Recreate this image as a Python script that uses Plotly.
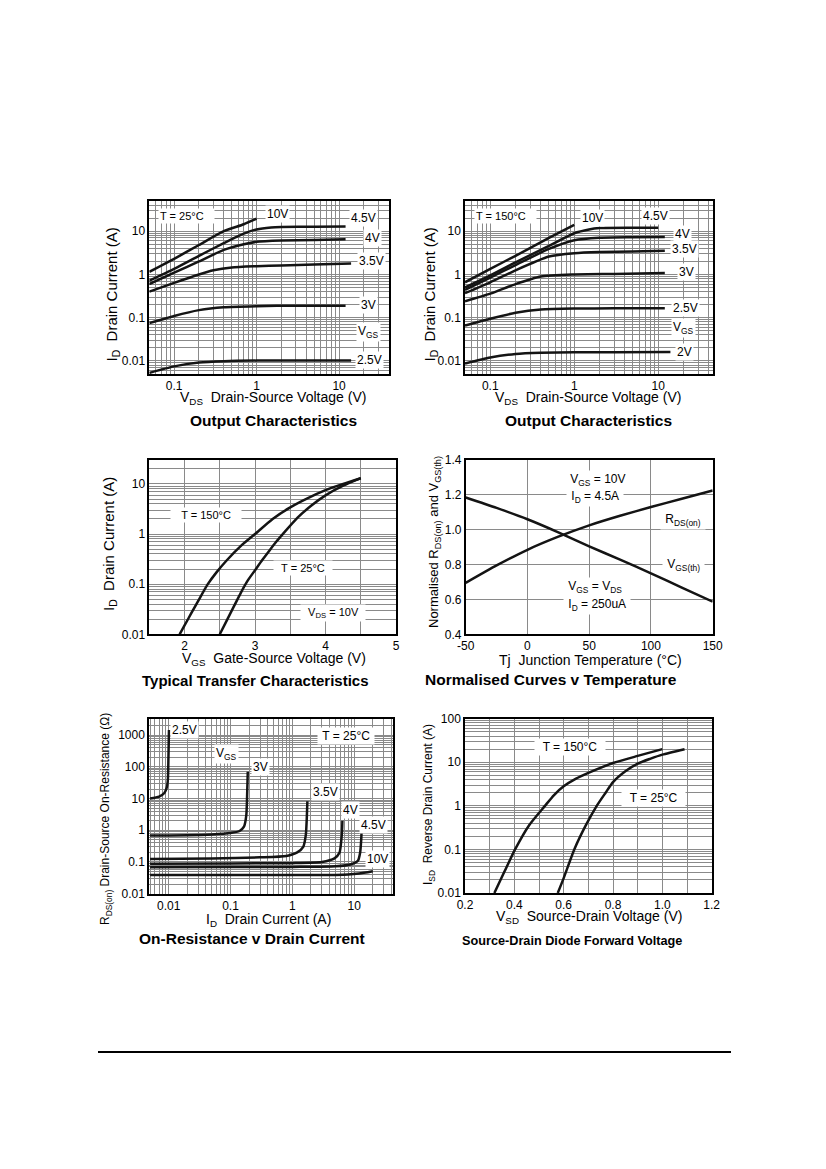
import numpy as np
import plotly.graph_objects as go

W, H = 826, 1169
OX, OY = 8, 8          # the page body margin that the browser adds round the figure
FONT = "Liberation Sans, Arial, sans-serif"
GRID = "#8a8a8a"
INK = "#141414"

# ---------------- data ----------------
# Output characteristics, T = 25 C  (VDS [V] -> ID [A])
oc25_10v_vds = [0.05, 0.1, 0.2, 0.4, 0.7, 1.0]
oc25_10v_id = [1.15, 2.3, 4.8, 10, 14.5, 19.5]
oc25_45v_vds = [0.05, 0.1, 0.2, 0.4, 0.7, 1.0, 1.5, 2, 5, 12]
oc25_45v_id = [0.72, 1.35, 2.7, 5.3, 8.8, 11, 12.2, 12.5, 12.7, 12.8]
oc25_4v_vds = [0.05, 0.1, 0.2, 0.4, 0.7, 1.0, 2, 5, 12]
oc25_4v_id = [0.6, 1.1, 2.0, 3.7, 5.0, 5.7, 6.1, 6.3, 6.5]
oc25_35v_vds = [0.05, 0.1, 0.2, 0.3, 0.5, 1.0, 2, 5, 14]
oc25_35v_id = [0.4, 0.64, 1.0, 1.25, 1.45, 1.55, 1.62, 1.7, 1.8]
oc25_3v_vds = [0.05, 0.1, 0.2, 0.4, 1.0, 3, 12]
oc25_3v_id = [0.075, 0.11, 0.15, 0.175, 0.185, 0.19, 0.19]
oc25_25v_vds = [0.05, 0.1, 0.2, 0.4, 1.0, 3, 14]
oc25_25v_id = [0.0053, 0.0075, 0.0092, 0.0099, 0.0102, 0.0102, 0.0102]

# Output characteristics, T = 150 C
oc150_10v_vds = [0.05, 0.1, 0.2, 0.5, 1.0]
oc150_10v_id = [0.66, 1.35, 2.7, 7, 14]
oc150_45v_vds = [0.05, 0.1, 0.2, 0.5, 1.0, 1.5, 2, 5, 10]
oc150_45v_id = [0.5, 0.95, 1.9, 4.6, 9.0, 11, 11.8, 12, 12]
oc150_4v_vds = [0.05, 0.1, 0.2, 0.5, 1.0, 2, 5, 12]
oc150_4v_id = [0.44, 0.85, 1.65, 3.9, 6.2, 7.1, 7.3, 7.4]
oc150_35v_vds = [0.05, 0.1, 0.2, 0.5, 1.0, 2, 5, 12]
oc150_35v_id = [0.37, 0.66, 1.25, 2.6, 3.1, 3.3, 3.4, 3.55]
oc150_3v_vds = [0.05, 0.1, 0.2, 0.4, 1.0, 3, 12]
oc150_3v_id = [0.24, 0.36, 0.6, 0.9, 1.0, 1.03, 1.08]
oc150_25v_vds = [0.05, 0.1, 0.2, 0.4, 1.0, 3, 12]
oc150_25v_id = [0.066, 0.095, 0.13, 0.155, 0.163, 0.165, 0.166]
oc150_2v_vds = [0.05, 0.1, 0.2, 0.4, 1.0, 3, 14]
oc150_2v_id = [0.0087, 0.012, 0.0145, 0.0155, 0.016, 0.016, 0.0162]

oc_x_ticks = [0.1, 1, 10]
oc_x_text = ["0.1", "1", "10"]
oc_y_ticks = [0.01, 0.1, 1, 10]
oc_y_text = ["0.01", "0.1", "1", "10"]

# Typical transfer characteristics (VGS [V] -> ID [A]), VDS = 10 V
tr150_vgs = [1.93, 2.0, 2.1, 2.2, 2.33, 2.45, 2.6, 2.8, 3.0, 3.25, 3.5, 3.75, 4.0, 4.25, 4.5]
tr150_id = [0.01, 0.015, 0.027, 0.048, 0.1, 0.17, 0.3, 0.58, 1.0, 2.0, 3.4, 5.2, 7.5, 10, 13]
tr25_vgs = [2.5, 2.6, 2.7, 2.8, 2.9, 3.0, 3.1, 3.2, 3.3, 3.4, 3.6, 3.8, 4.0, 4.25, 4.5]
tr25_id = [0.01, 0.019, 0.036, 0.068, 0.12, 0.19, 0.3, 0.46, 0.7, 1.02, 2.1, 3.7, 5.9, 9.2, 13]
tr_x_ticks = [2, 3, 4, 5]
tr_x_text = ["2", "3", "4", "5"]

# Normalised curves v temperature
nt_tj = [-50, -25, 0, 25, 50, 75, 100, 125, 150]
nt_rds = [0.695, 0.795, 0.885, 0.96, 1.025, 1.08, 1.13, 1.178, 1.225]
nt_vth = [1.185, 1.125, 1.06, 0.985, 0.905, 0.828, 0.75, 0.668, 0.587]
nt_x_ticks = [-50, 0, 50, 100, 150]
nt_x_text = ["-50", "0", "50", "100", "150"]
nt_y_ticks = [0.4, 0.6, 0.8, 1.0, 1.2, 1.4]
nt_y_text = ["0.4", "0.6", "0.8", "1.0", "1.2", "1.4"]

# On-resistance v drain current (ID [A] -> RDS(on) [ohm]), T = 25 C
or_25v_id = [0.005, 0.007, 0.0085, 0.0093, 0.0097, 0.0099, 0.0101]
or_25v_r = [10, 11.5, 15, 22, 40, 200, 1450]
or_3v_id = [0.005, 0.02, 0.05, 0.1, 0.14, 0.165, 0.18, 0.186, 0.19]
or_3v_r = [0.69, 0.7, 0.74, 0.82, 0.95, 1.3, 3, 15, 70]
or_35v_id = [0.005, 0.05, 0.3, 0.8, 1.2, 1.5, 1.65, 1.72, 1.75]
or_35v_r = [0.125, 0.13, 0.14, 0.155, 0.2, 0.3, 0.7, 3, 8.2]
or_4v_id = [0.005, 0.1, 1, 3, 4.8, 5.8, 6.2, 6.4, 6.45]
or_4v_r = [0.088, 0.09, 0.092, 0.1, 0.13, 0.2, 0.5, 1.2, 2.0]
or_45v_id = [0.005, 0.1, 1, 5, 9, 11.5, 12.5, 13, 13.2]
or_45v_r = [0.068, 0.069, 0.07, 0.073, 0.085, 0.11, 0.2, 0.5, 1.0]
or_10v_id = [0.005, 0.1, 1, 5, 8, 12, 20]
or_10v_r = [0.039, 0.039, 0.039, 0.039, 0.04, 0.043, 0.051]
or_x_ticks = [0.01, 0.1, 1, 10]
or_x_text = ["0.01", "0.1", "1", "10"]
or_y_ticks = [0.01, 0.1, 1, 10, 100, 1000]
or_y_text = ["0.01", "0.1", "1", "10", "100", "1000"]

# Source-drain diode forward voltage (VSD [V] -> ISD [A])
sd150_vsd = [0.319, 0.36, 0.403, 0.46, 0.524, 0.56, 0.6, 0.65, 0.7, 0.8, 0.9, 1.0]
sd150_isd = [0.01, 0.031, 0.1, 0.36, 1.0, 1.75, 2.8, 4.2, 5.7, 9.6, 14, 20]
sd25_vsd = [0.576, 0.6, 0.643, 0.69, 0.734, 0.77, 0.8, 0.85, 0.9, 0.95, 1.0, 1.09]
sd25_isd = [0.01, 0.022, 0.1, 0.36, 1.0, 2.0, 3.5, 6.2, 9.3, 12, 15, 20]
sd_x_ticks = [0.2, 0.4, 0.6, 0.8, 1.0, 1.2]
sd_x_text = ["0.2", "0.4", "0.6", "0.8", "1.0", "1.2"]
sd_y_ticks = [0.01, 0.1, 1, 10, 100]
sd_y_text = ["0.01", "0.1", "1", "10", "100"]


def xdom(a, b):
    return [(a - OX) / W, (b - OX) / W]


def ydom(top, bottom):
    return [1 - (bottom - OY) / H, 1 - (top - OY) / H]


def axis(dom, kind, rng, anchor, tv, tt, minor_dtick=None, fsize=12):
    d = dict(domain=dom, type=kind, range=rng, anchor=anchor, automargin=False,
             showline=True, mirror=True, linecolor="black", linewidth=1.5,
             showgrid=True, gridcolor=GRID, gridwidth=1, zeroline=False,
             ticks="", tickmode="array", tickvals=tv, ticktext=tt,
             tickfont=dict(family=FONT, size=fsize, color="black"),
             fixedrange=True)
    if minor_dtick is not None:
        d["minor"] = dict(showgrid=True, gridcolor=GRID, gridwidth=1,
                          tickmode="linear", dtick=minor_dtick, ticks="")
    return d


fig = go.Figure()


def curves(pairs, n):
    xa = "x" if n == 1 else "x%d" % n
    ya = "y" if n == 1 else "y%d" % n
    for xs, ys in pairs:
        fig.add_trace(go.Scatter(x=xs, y=ys, mode="lines", xaxis=xa, yaxis=ya,
                                 line=dict(color=INK, width=2.5, shape="spline",
                                           smoothing=0.6),
                                 hoverinfo="skip"))


curves([(oc25_10v_vds, oc25_10v_id), (oc25_45v_vds, oc25_45v_id),
        (oc25_4v_vds, oc25_4v_id), (oc25_35v_vds, oc25_35v_id),
        (oc25_3v_vds, oc25_3v_id), (oc25_25v_vds, oc25_25v_id)], 1)
curves([(oc150_10v_vds, oc150_10v_id), (oc150_45v_vds, oc150_45v_id),
        (oc150_4v_vds, oc150_4v_id), (oc150_35v_vds, oc150_35v_id),
        (oc150_3v_vds, oc150_3v_id), (oc150_25v_vds, oc150_25v_id),
        (oc150_2v_vds, oc150_2v_id)], 2)
curves([(tr150_vgs, tr150_id), (tr25_vgs, tr25_id)], 3)
curves([(nt_tj, nt_rds), (nt_tj, nt_vth)], 4)
curves([(or_25v_id, or_25v_r), (or_3v_id, or_3v_r), (or_35v_id, or_35v_r),
        (or_4v_id, or_4v_r), (or_45v_id, or_45v_r), (or_10v_id, or_10v_r)], 5)
curves([(sd150_vsd, sd150_isd), (sd25_vsd, sd25_isd)], 6)

lg = np.log10
fig.update_layout(
    xaxis=axis(xdom(149.3, 388.7), "log", [lg(0.05), lg(40)], "y", oc_x_ticks, oc_x_text, "D1"),
    yaxis=axis(ydom(201, 374), "log", [lg(0.005), lg(50)], "x", oc_y_ticks, oc_y_text, "D1"),
    xaxis2=axis(xdom(465, 713), "log", [lg(0.05), lg(45)], "y2", oc_x_ticks, oc_x_text, "D1"),
    yaxis2=axis(ydom(201, 374), "log", [lg(0.005), lg(50)], "x2", oc_y_ticks, oc_y_text, "D1"),
    xaxis3=axis(xdom(149.3, 396), "linear", [1.5, 5], "y3", tr_x_ticks, tr_x_text, 0.5),
    yaxis3=axis(ydom(460, 634.3), "log", [-2, lg(30)], "x3", oc_y_ticks, oc_y_text, "D1"),
    xaxis4=axis(xdom(465.7, 712.7), "linear", [-50, 150], "y4", nt_x_ticks, nt_x_text, None, 12),
    yaxis4=axis(ydom(460, 634.3), "linear", [0.4, 1.4], "x4", nt_y_ticks, nt_y_text, None, 12),
    xaxis5=axis(xdom(149, 392.7), "log", [lg(0.0048), lg(42)], "y5", or_x_ticks, or_x_text, "D1", 12),
    yaxis5=axis(ydom(719.3, 893.7), "log", [-2, 3.5], "x5", or_y_ticks, or_y_text, "D1", 12),
    xaxis6=axis(xdom(465, 711.7), "linear", [0.2, 1.2], "y6", sd_x_ticks, sd_x_text, 0.1),
    yaxis6=axis(ydom(718.7, 893), "log", [-2, 2], "x6", sd_y_ticks, sd_y_text, "D1"),
)

notes = []


def note(text, x, y, size=11, bg="white", angle=0, bold=False):
    if bold:
        text = "<b>" + text + "</b>"
    notes.append(dict(text=text, x=(x - OX) / W, y=1 - (y - OY) / H,
                      xref="paper", yref="paper",
                      xanchor="center", yanchor="middle", showarrow=False,
                      textangle=angle, bgcolor=bg, borderpad=1,
                      font=dict(family=FONT, size=size, color="black")))


NB = "\u00a0"
# panel 1
note("T = 25°C" + NB * 3, 186, 215.7)
note("10V", 277.3, 214.3, 12)
note("4.5V", 363.3, 217.7, 12)
note("4V", 372.7, 238.3, 12)
note("3.5V", 371.7, 260.7, 12)
note("3V", 368.3, 305, 12)
note("V<sub>GS</sub>", 368.3, 331.7, 12)
note("2.5V", 369.3, 360, 12)
note("I<sub>D</sub>" + NB * 2 + "Drain Current (A)", 112, 294.5, 15, None, -90)
note("V<sub>DS</sub>" + NB * 2 + "Drain-Source Voltage (V)", 272.5, 398, 14, None)
note("Output Characteristics", 273, 420.5, 15.5, None, bold=True)
# panel 2
note("T = 150°C" + NB * 3, 506, 215.7)
note("10V", 592.7, 217.7, 12)
note("4.5V", 655.7, 215.7, 12)
note("4V", 682.7, 234.3, 12)
note("3.5V", 684.3, 249, 12)
note("3V", 686.7, 271.7, 12)
note("2.5V", 685, 308.3, 12)
note("V<sub>GS</sub>", 683.3, 327.7, 12)
note("2V", 684, 351.7, 12)
note("I<sub>D</sub>" + NB * 2 + "Drain Current (A)", 429.5, 295, 15, None, -90)
note("V<sub>DS</sub>" + NB * 2 + "Drain-Source Voltage (V)", 588, 398, 14, None)
note("Output Characteristics", 588.5, 420.5, 15.5, None, bold=True)
# panel 3
note(NB * 3 + "T = 150°C" + NB * 3, 206, 515)
note(NB * 2 + "T = 25°C" + NB * 2, 303.3, 568.3)
note(NB * 2 + "V<sub>DS</sub> = 10V" + NB * 2, 333.3, 612.7)
note("I<sub>D</sub>" + NB * 2 + "Drain Current (A)", 110, 544, 15, None, -90)
note("V<sub>GS</sub>" + NB * 2 + "Gate-Source Voltage (V)", 273.5, 659, 14, None)
note("Typical Transfer Characteristics", 255, 680, 15, None, bold=True)
# panel 4
note(NB + "V<sub>GS</sub> = 10V" + NB, 597.7, 480, 12)
note(NB + "I<sub>D</sub> = 4.5A" + NB, 595, 496.7, 12)
note(NB + "R<sub>DS(on)</sub>" + NB, 683.3, 520, 12)
note(NB + "V<sub>GS(th)</sub>" + NB, 683.3, 565, 12)
note(NB + "V<sub>GS</sub> = V<sub>DS</sub>" + NB, 595, 587.3, 12)
note(NB + "I<sub>D</sub> = 250uA" + NB, 596.7, 605, 12)
note("Normalised R<sub>DS(on)</sub> and V<sub>GS(th)</sub>", 434, 542, 13, None, -90)
note("Tj" + NB * 2 + "Junction Temperature (°C)", 590, 660, 14, None)
note("Normalised Curves v Temperature", 551, 679, 15.5, None, bold=True)
# panel 5
note("2.5V", 184.3, 730.3, 12)
note("V<sub>GS</sub>", 226.7, 753.7, 12)
note("3V", 260, 767, 12)
note("3.5V", 325, 792, 12)
note("4V", 350, 810.3, 12)
note("4.5V", 373.3, 824.7, 12)
note("10V", 377.7, 858.7, 12)
note(NB + "T = 25°C" + NB, 345.7, 736, 12)
note("R<sub>DS(on)</sub>" + NB + "Drain-Source On-Resistance (Ω)", 106, 819, 12, None, -90)
note("I<sub>D</sub>" + NB * 2 + "Drain Current (A)", 268, 920, 14, None)
note("On-Resistance v Drain Current", 252, 938.5, 15.5, None, bold=True)
# panel 6
note(NB * 2 + "T = 150°C" + NB * 2, 570, 747, 12)
note(NB * 2 + "T = 25°C" + NB * 2, 653.3, 798, 12)
note("I<sub>SD</sub>" + NB * 2 + "Reverse Drain Current (A)", 429, 805, 12, None, -90)
note("V<sub>SD</sub>" + NB * 2 + "Source-Drain Voltage (V)", 589, 917, 14, None)
note("Source-Drain Diode Forward Voltage", 572, 940.5, 12.7, None, bold=True)

fig.update_layout(
    width=W, height=H, margin=dict(l=0, r=0, t=0, b=0),
    paper_bgcolor="white", plot_bgcolor="white", showlegend=False,
    annotations=notes,
    shapes=[dict(type="line", xref="paper", yref="paper",
                 x0=(98 - OX) / W, x1=(731 - OX) / W,
                 y0=1 - (1052 - OY) / H, y1=1 - (1052 - OY) / H,
                 line=dict(color="black", width=2))],
)

fig.write_html("out.html")
